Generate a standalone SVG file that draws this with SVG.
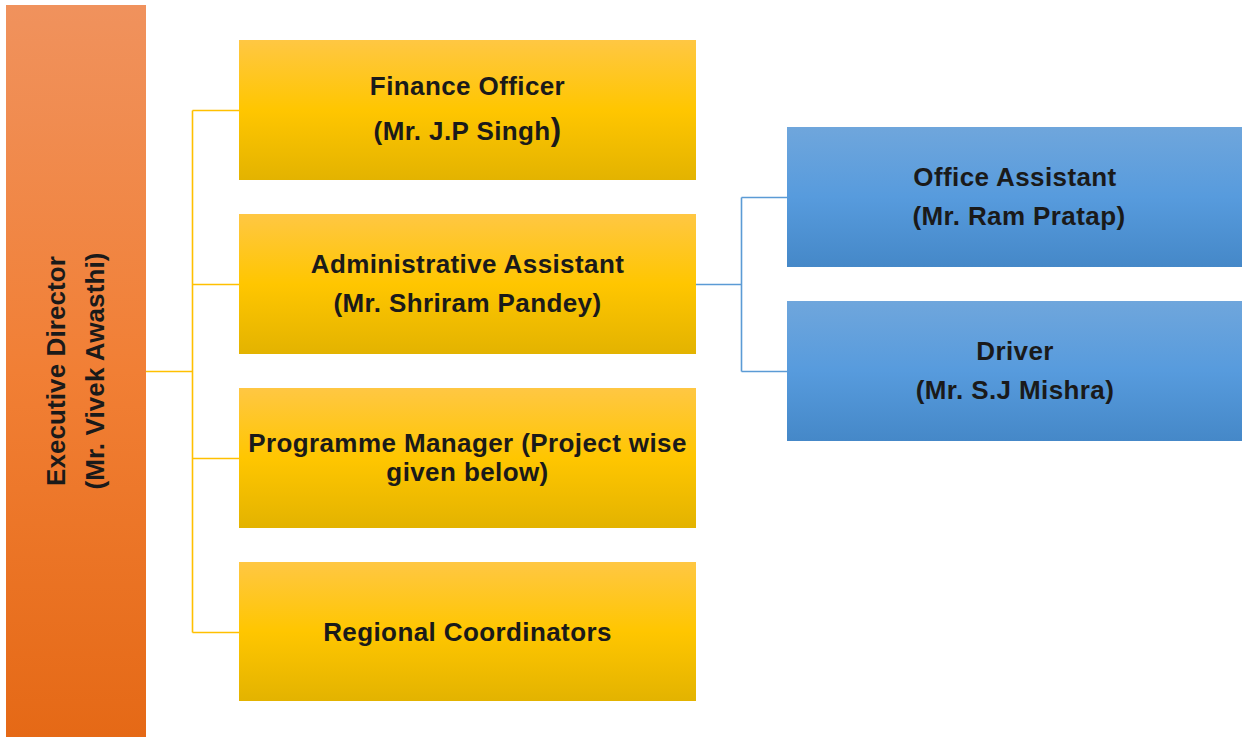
<svg xmlns="http://www.w3.org/2000/svg" width="1242" height="737" viewBox="0 0 1242 737">
<defs>
<linearGradient id="gOrange" x1="0" y1="0" x2="0" y2="1">
<stop offset="0" stop-color="#F0925D"/>
<stop offset="0.5" stop-color="#F17F35"/>
<stop offset="1" stop-color="#E56916"/>
</linearGradient>
<linearGradient id="gYellow" x1="0" y1="0" x2="0" y2="1">
<stop offset="0" stop-color="#FFC743"/>
<stop offset="0.5" stop-color="#FFC600"/>
<stop offset="1" stop-color="#E3B300"/>
</linearGradient>
<linearGradient id="gBlue" x1="0" y1="0" x2="0" y2="1">
<stop offset="0" stop-color="#6FA6DC"/>
<stop offset="0.5" stop-color="#579BDD"/>
<stop offset="1" stop-color="#4588C8"/>
</linearGradient>
<style>
.t{font-family:"Liberation Sans",Arial,sans-serif;font-weight:bold;font-size:26px;fill:#1a1a1a;text-anchor:middle;letter-spacing:0.4px}
.te{font-family:"Liberation Sans",Arial,sans-serif;font-weight:bold;font-size:26px;fill:#1a1a1a;text-anchor:middle;letter-spacing:0.1px}
.cy{fill:none;stroke:#FFC000;stroke-width:1.6}
.cb{fill:none;stroke:#5B9BD5;stroke-width:1.6}
</style>
</defs>
<rect width="1242" height="737" fill="#FFFFFF"/>
<g id="connectors">
<path class="cy" d="M146,371.5 H192.5 M192.5,110.5 V632.5 M192.5,110.5 H239 M192.5,284.5 H239 M192.5,458.5 H239 M192.5,632.5 H239"/>
<path class="cb" d="M696,284.5 H741.5 M741.5,197.5 V371.5 M741.5,197.5 H787 M741.5,371.5 H787"/>
</g>
<g id="executive-director">
<rect x="6" y="5" width="140" height="732" fill="url(#gOrange)"/>
<text class="te" transform="translate(65,371) rotate(-90)" x="0" y="0">Executive Director</text>
<text class="te" transform="translate(104,371) rotate(-90)" x="0" y="0">(Mr. Vivek Awasthi)</text>
</g>
<g id="finance-officer">
<rect x="239" y="40" width="457" height="140" fill="url(#gYellow)"/>
<text class="t" x="467.5" y="95">Finance Officer</text>
<text class="t" x="467.5" y="140">(Mr. J.P Singh<tspan font-size="31px">)</tspan></text>
</g>
<g id="administrative-assistant">
<rect x="239" y="214" width="457" height="140" fill="url(#gYellow)"/>
<text class="t" x="467.5" y="273">Administrative Assistant</text>
<text class="t" x="467.5" y="312">(Mr. Shriram Pandey)</text>
</g>
<g id="programme-manager">
<rect x="239" y="388" width="457" height="140" fill="url(#gYellow)"/>
<text class="t" x="467.5" y="452">Programme Manager (Project wise</text>
<text class="t" x="467.5" y="481">given below)</text>
</g>
<g id="regional-coordinators">
<rect x="239" y="562" width="457" height="139" fill="url(#gYellow)"/>
<text class="t" x="467.5" y="641">Regional Coordinators</text>
</g>
<g id="office-assistant">
<rect x="787" y="127" width="455" height="140" fill="url(#gBlue)"/>
<text class="t" x="1015" y="186">Office Assistant</text>
<text class="t" x="1019" y="225">(Mr. Ram Pratap)</text>
</g>
<g id="driver">
<rect x="787" y="301" width="455" height="140" fill="url(#gBlue)"/>
<text class="t" x="1015" y="360">Driver</text>
<text class="t" x="1015" y="399">(Mr. S.J Mishra)</text>
</g>
</svg>
